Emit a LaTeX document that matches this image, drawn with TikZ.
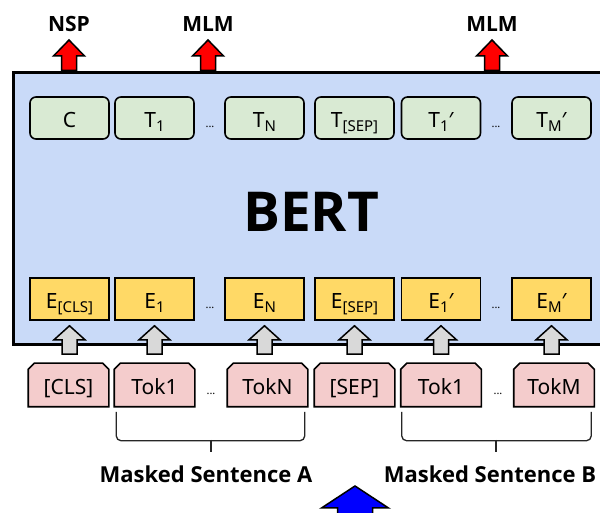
\documentclass[tikz,border=0pt]{standalone}
\usepackage{fontspec}
\setmainfont{Noto Sans}
\newfontfamily\labelfont{Open Sans}
\usetikzlibrary{calc,backgrounds}
\definecolor{bertblue}{HTML}{C9DAF8}
\definecolor{tgreen}{HTML}{D9EAD3}
\definecolor{eyellow}{HTML}{FFD966}
\definecolor{kpink}{HTML}{F4CCCC}
\definecolor{agray}{HTML}{D9D9D9}
\newcommand\mysub[1]{\raisebox{-4pt}{\fontsize{15}{15}\selectfont #1}}
\tikzset{
  box/.style={minimum width=79pt, minimum height=42pt, inner sep=0pt, line width=1.6pt,
    text height=20pt, text depth=0pt, font=\fontsize{21}{21}\selectfont},
  tbox/.style={box, draw, fill=tgreen, rounded corners=6pt},
  ebox/.style={box, draw, fill=eyellow},
  kbox/.style={box},
  kshape/.style={draw, fill=kpink, line width=1.6pt},
  dotsl/.style={anchor=base, inner sep=0pt, font=\fontsize{11}{11}\selectfont},
  toplabel/.style={anchor=base, inner sep=0pt, font=\labelfont\bfseries\fontsize{21}{21}\selectfont},
  sentlabel/.style={anchor=base, inner sep=0pt, font=\labelfont\bfseries\fontsize{22}{22}\selectfont},
  grayarrow/.style={draw, fill=agray, line width=1.5pt, line join=miter},
  redarrow/.style={draw, fill=red, line width=1.5pt, line join=miter},
  bluearrow/.style={draw, fill=blue, line width=1.5pt, line join=miter},
  brace/.style={draw=black!85, line width=1.3pt, rounded corners=5pt},
  bertbox/.style={draw, fill=bertblue, line width=3pt, minimum width=627pt, minimum height=272pt, inner sep=0pt}
}
\newcommand\garrow[2]{\path[grayarrow] let \p1=(#2.south), \p2=(#1.north) in
  (\x1-7.5,\y2+9) -- (\x1-7.5,\y1-19) -- (\x1-15.5,\y1-19) -- (\x1,\y1-5) -- (\x1+15.5,\y1-19) -- (\x1+7.5,\y1-19) -- (\x1+7.5,\y2+9) -- cycle;}
\newcommand\rarrow[1]{\path[redarrow] let \p1=(#1.base), \p2=(bert.north) in
  (\x1-7.5,\y2+1) -- (\x1-7.5,\y1-24) -- (\x1-15.5,\y1-24) -- (\x1,\y1-8) -- (\x1+15.5,\y1-24) -- (\x1+7.5,\y1-24) -- (\x1+7.5,\y2+1) -- cycle;}
\newcommand\kshp[1]{\path[kshape] (#1.south west) -- ([yshift=-6pt]#1.north west) -- ([xshift=6pt]#1.north west) -- ([xshift=-6pt]#1.north east) -- ([yshift=-6pt]#1.north east) -- (#1.south east) -- cycle;}
\begin{document}
\begin{tikzpicture}[x=1pt,y=1pt]
\useasboundingbox (0,0) rectangle (600,513);
\begin{scope}[on background layer]
\fill[white] (0,0) rectangle (600,513);
\end{scope}
\clip (0,0) rectangle (600,513);
% BERT box
\node[bertbox] (bert) at (326.5,304) {};
\node[anchor=base, inner sep=0pt, font=\labelfont\bfseries\fontsize{55}{55}\selectfont] (bertlabel) at (311,281) {BERT};
% top row
\node[tbox] (c) at (69.5,395) {C};
\node[tbox] (t1) at (154.5,395) {T\mysub{1}};
\node[tbox] (tn) at (264.5,395) {T\mysub{N}};
\node[tbox] (tsep) at (354.5,395) {T\mysub{[SEP]}};
\node[tbox] (t1p) at (441,395) {T\mysub{1}′};
\node[tbox] (tmp) at (551.5,395) {T\mysub{M}′};
\node[dotsl] (d1) at (210,385) {...};
\node[dotsl] (d2) at (496,385) {...};
% embedding row
\node[ebox] (ecls) at (69.5,214) {E\mysub{[CLS]}};
\node[ebox] (e1) at (154.5,214) {E\mysub{1}};
\node[ebox] (en) at (264.5,214) {E\mysub{N}};
\node[ebox] (esep) at (354.5,214) {E\mysub{[SEP]}};
\node[ebox] (e1p) at (441,214) {E\mysub{1}′};
\node[ebox] (emp) at (551.5,214) {E\mysub{M}′};
\node[dotsl] (d3) at (210,204) {...};
\node[dotsl] (d4) at (496,204) {...};
% token row
\node[kbox] (kcls) at (68.5,128) {[CLS]};
\node[kbox] (k1) at (154.5,128) {Tok1};
\node[kbox] (kn) at (267.5,128) {TokN};
\node[kbox] (ksep) at (354.5,128) {[SEP]};
\node[kbox] (k1p) at (441,128) {Tok1};
\node[kbox] (km) at (554,128) {TokM};
\node[dotsl] (d5) at (211,118) {...};
\node[dotsl] (d6) at (498,118) {...};
\begin{scope}[on background layer]
\kshp{kcls}\kshp{k1}\kshp{kn}\kshp{ksep}\kshp{k1p}\kshp{km}
\end{scope}
% gray arrows
\garrow{kcls}{ecls}
\garrow{k1}{e1}
\garrow{kn}{en}
\garrow{ksep}{esep}
\garrow{k1p}{e1p}
\garrow{km}{emp}
% top labels and red arrows
\node[toplabel] (nsp) at (69,481) {NSP};
\node[toplabel] (mlm1) at (208,481) {MLM};
\node[toplabel] (mlm2) at (492,481) {MLM};
\rarrow{nsp}
\rarrow{mlm1}
\rarrow{mlm2}
% braces
\path[brace] let \p1=(k1.south west), \p2=(kn.south east) in
  (\x1+2,\y1-5) -- (\x1+2,\y1-34) -- (\x2-3,\y1-34) -- (\x2-3,\y1-5);
\path[brace] let \p1=(k1p.south west), \p2=(km.south east) in
  (\x1+1,\y1-5) -- (\x1+1,\y1-34) -- (\x2-3,\y1-34) -- (\x2-3,\y1-5);
\coordinate (ta) at (211,73);
\coordinate (tb) at (496,73);
\draw[draw=black!85, line width=1.3pt] (ta) -- ++(0,-12);
\draw[draw=black!85, line width=1.3pt] (tb) -- ++(0,-12);
\node[sentlabel] (sa) at (206,30) {Masked Sentence A};
\node[sentlabel] (sb) at (490,30) {Masked Sentence B};
% blue arrow
\coordinate (bluebase) at (355,-10);
\coordinate (bluetip) at (355,27);
\path[bluearrow] let \p1=(bluebase), \p2=(bluetip) in
  (\x1-17.5,\y1) -- (\x1-17.5,\y2-22) -- (\x1-33.5,\y2-22) -- (\x2,\y2) -- (\x1+33.5,\y2-22) -- (\x1+17.5,\y2-22) -- (\x1+17.5,\y1) -- cycle;
\end{tikzpicture}
\end{document}
